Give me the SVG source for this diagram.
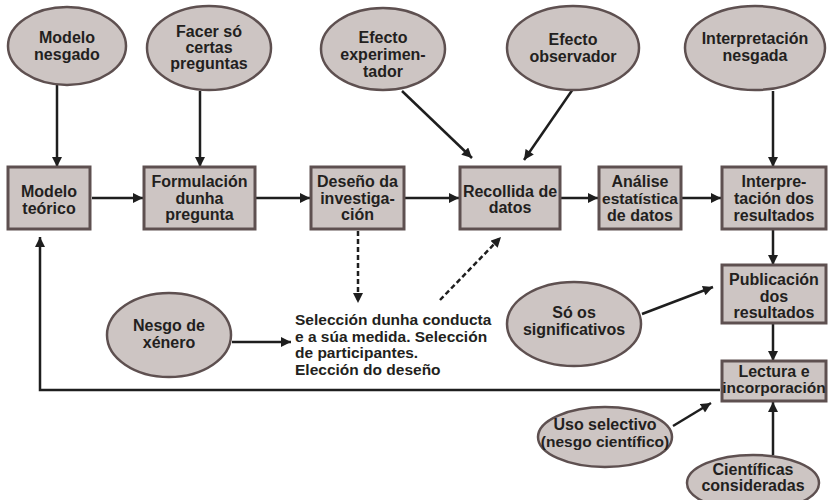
<svg xmlns="http://www.w3.org/2000/svg" width="828" height="500" viewBox="0 0 828 500">
<style>
.n{fill:#cdc5c3;stroke:#5e5050;stroke-width:2.5}
.b{fill:#cdc5c3;stroke:#5e5050;stroke-width:3}
text{font-family:"Liberation Sans",Arial,sans-serif;font-weight:bold;font-size:16px;fill:#231f20;text-anchor:middle}
.l{text-anchor:start;font-size:15.5px}
.s{font-size:15.5px}
.c{fill:none;stroke:#1e1e1e;stroke-width:2.5}
.d{stroke-dasharray:5 3}
</style>
<defs>
<marker id="a" viewBox="0 0 10 10" refX="10" refY="5" markerWidth="11" markerHeight="10" markerUnits="userSpaceOnUse" orient="auto">
<path d="M0,0 L10,5 L0,10 z" fill="#1e1e1e"/>
</marker>
</defs>
<rect width="828" height="500" fill="#fff"/>

<g id="connectors">
<path class="c" d="M57,85 V167" marker-end="url(#a)"/>
<path class="c" d="M200,91 V167" marker-end="url(#a)"/>
<path class="c" d="M92,198 H143" marker-end="url(#a)"/>
<path class="c" d="M256,198 H310" marker-end="url(#a)"/>
<path class="c" d="M405,198 H459" marker-end="url(#a)"/>
<path class="c" d="M561,198 H598" marker-end="url(#a)"/>
<path class="c" d="M682,198 H721" marker-end="url(#a)"/>
<path class="c" d="M402,91 L472,158" marker-end="url(#a)"/>
<path class="c" d="M573,89 L524,160" marker-end="url(#a)"/>
<path class="c" d="M773,91 V167" marker-end="url(#a)"/>
<path class="c" d="M773,230 V265" marker-end="url(#a)"/>
<path class="c" d="M773,324 V361" marker-end="url(#a)"/>
<path class="c" d="M642,314 L713,287" marker-end="url(#a)"/>
<path class="c" d="M673,426 L711,403" marker-end="url(#a)"/>
<path class="c" d="M773,455 V402" marker-end="url(#a)"/>
<path class="c" d="M720,390 H40 V237" marker-end="url(#a)"/>
<path class="c d" d="M358,231 V303" marker-end="url(#a)"/>
<path class="c d" d="M440,300 L501,237" marker-end="url(#a)"/>
<path class="c" d="M232,342 H291" marker-end="url(#a)"/>
</g>

<g id="modelo-nesgado"><ellipse class="n" cx="67" cy="46" rx="59" ry="39"/><text x="67" y="43">Modelo</text><text x="67" y="60">nesgado</text></g>
<g id="facer"><ellipse class="n" cx="209" cy="48" rx="62" ry="42"/><text x="209" y="37">Facer só</text><text x="209" y="53">certas</text><text x="209" y="69">preguntas</text></g>
<g id="efecto-experimentador"><ellipse class="n" cx="383" cy="49" rx="62" ry="41"/><text x="383" y="43">Efecto</text><text x="383" y="60">experimen-</text><text x="383" y="77">tador</text></g>
<g id="efecto-observador"><ellipse class="n" cx="573" cy="48" rx="66" ry="42"/><text x="573" y="45">Efecto</text><text x="573" y="62">observador</text></g>
<g id="interpretacion-nesgada"><ellipse class="n" cx="755" cy="48" rx="70" ry="42"/><text x="755" y="44">Interpretación</text><text x="755" y="61">nesgada</text></g>

<g id="modelo-teorico"><rect class="b" x="8" y="167" width="82" height="62"/><text x="49" y="197">Modelo</text><text x="49" y="214">teórico</text></g>
<g id="formulacion"><rect class="b" x="144" y="167" width="111" height="62"/><text x="199.5" y="187">Formulación</text><text x="199.5" y="204">dunha</text><text x="199.5" y="220">pregunta</text></g>
<g id="desenho"><rect class="b" x="311" y="167" width="93" height="62"/><text x="357.5" y="187">Deseño da</text><text x="357.5" y="204">investiga-</text><text x="357.5" y="220">ción</text></g>
<g id="recollida"><rect class="b" x="460" y="167" width="100" height="62"/><text x="510" y="197">Recollida de</text><text x="510" y="213">datos</text></g>
<g id="analise"><rect class="b" x="599" y="167" width="82" height="62"/><text x="640" y="187">Análise</text><text class="s" x="640" y="204">estatística</text><text x="640" y="221">de datos</text></g>
<g id="interpretacion-resultados"><rect class="b" x="722" y="167" width="104" height="62"/><text x="774" y="187">Interpre-</text><text x="774" y="204">tación dos</text><text x="774" y="221">resultados</text></g>
<g id="publicacion"><rect class="b" x="722" y="265" width="104" height="58"/><text x="774" y="285">Publicación</text><text x="774" y="302">dos</text><text x="774" y="318">resultados</text></g>
<g id="lectura"><rect class="b" x="722" y="361" width="104" height="40"/><text x="774" y="377">Lectura e</text><text class="s" x="774" y="393">incorporación</text></g>

<g id="nesgo-xenero"><ellipse class="n" cx="169" cy="335" rx="62" ry="42"/><text x="169" y="331">Nesgo de</text><text x="169" y="348">xénero</text></g>
<g id="so-significativos"><ellipse class="n" cx="574" cy="324" rx="67" ry="42"/><text x="574" y="318">Só os</text><text x="574" y="335">significativos</text></g>
<g id="uso-selectivo"><ellipse class="n" cx="605" cy="437" rx="67" ry="30"/><text x="605" y="430">Uso selectivo</text><text class="s" x="605" y="447">(nesgo científico)</text></g>
<g id="cientificas"><ellipse class="n" cx="753" cy="483" rx="66" ry="28"/><text x="753" y="475">Científicas</text><text x="753" y="491">consideradas</text></g>

<g id="seleccion"><text class="l" x="295" y="325">Selección dunha conducta</text><text class="l" x="295" y="342">e a súa medida. Selección</text><text class="l" x="295" y="358">de participantes.</text><text class="l" x="295" y="375">Elección do deseño</text></g>
</svg>
